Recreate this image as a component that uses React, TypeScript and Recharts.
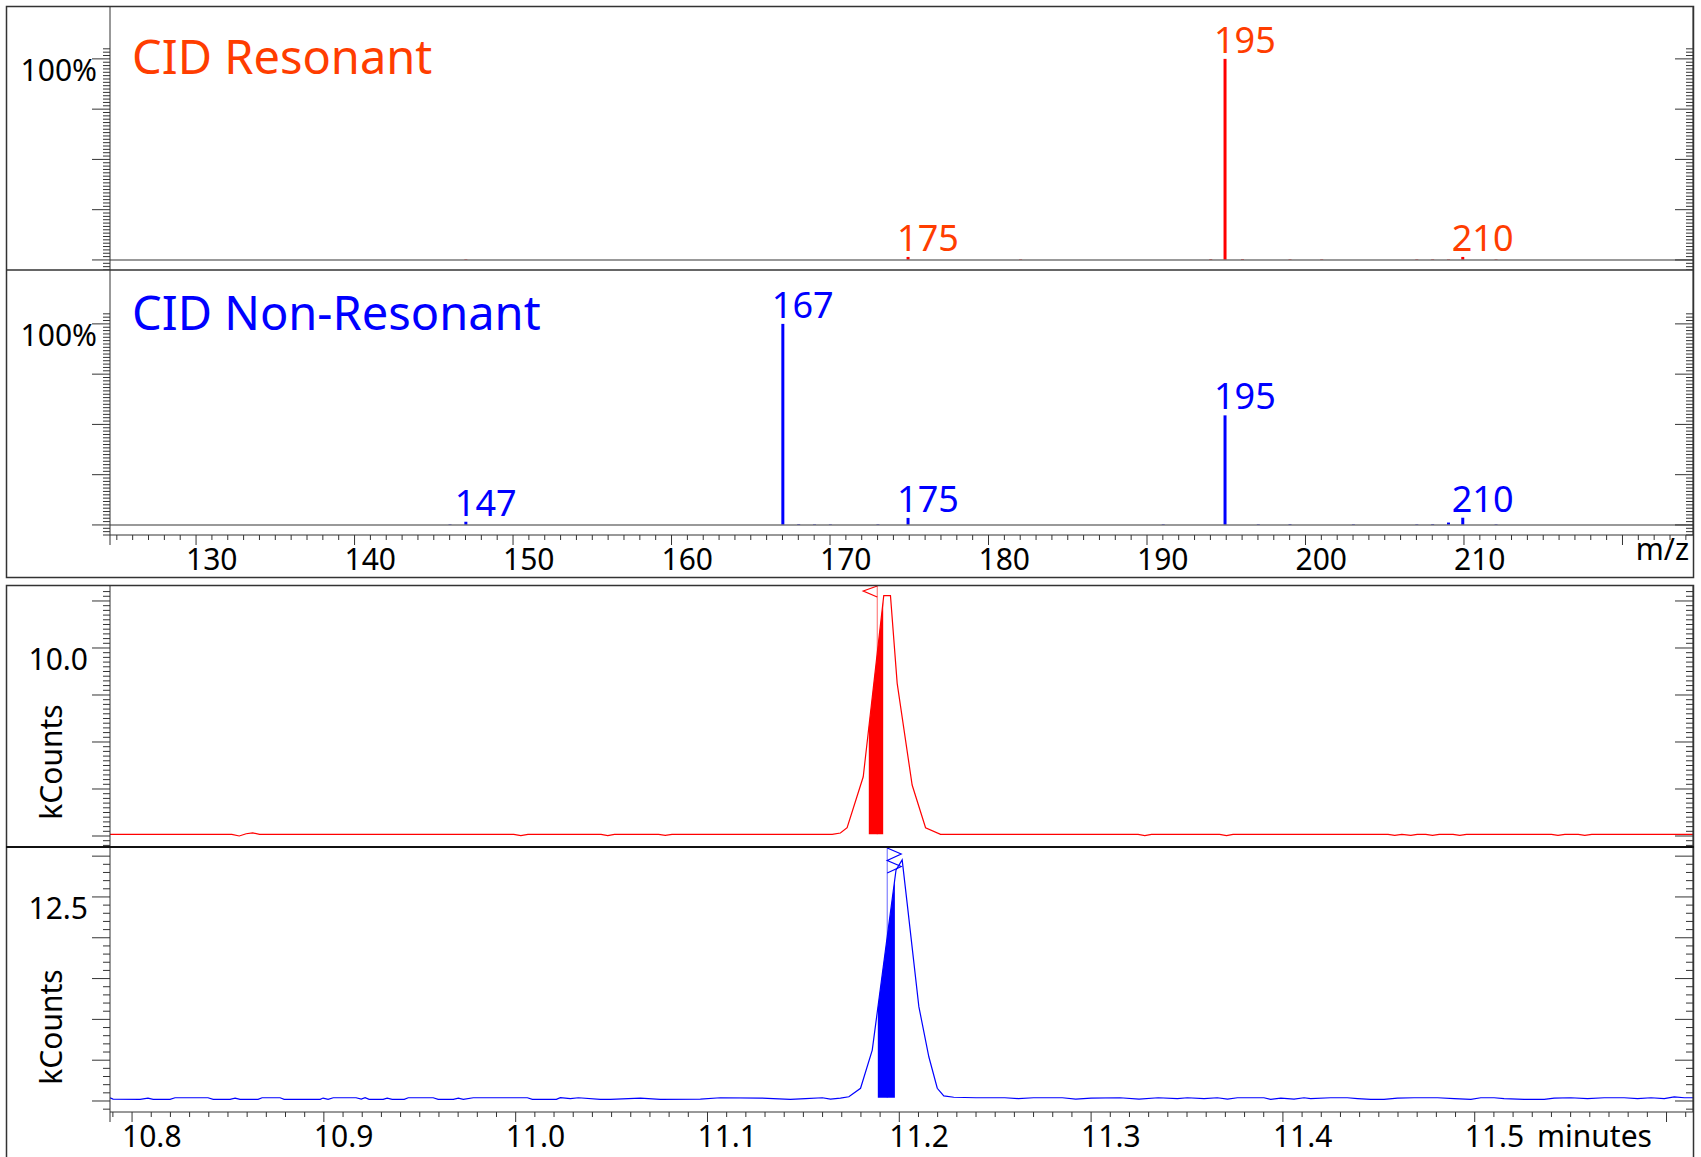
import React from 'react';
import {
  ComposedChart,
  Bar,
  Line,
  Area,
  XAxis,
  YAxis,
  ReferenceLine,
  ReferenceDot,
  LabelList,
} from 'recharts';

const FONT = '"Noto Sans", "DejaVu Sans", sans-serif';
const AXIS = '#333';
const RED = '#ff0000';
const RED_TEXT = '#ff3d00';
const BLUE = '#0000ff';

// --- mass spectra (relative intensity, %) ---
const resonantMz = [147, 174.9, 182, 194, 194.9, 196, 199, 201, 207, 208, 209, 209.9, 212];
const resonantIntensity = [0.3, 1.5, 0.3, 0.4, 100, 0.4, 0.3, 0.3, 0.3, 0.3, 0.3, 1.5, 0.3];
const resonantLabels = ['', '175', '', '', '195', '', '', '', '', '', '', '210', ''];

const nonResMz = [146, 147, 167, 168, 169, 170, 173, 174.9, 191, 194.9, 197, 199, 203, 207, 208, 209, 209.9, 212];
const nonResIntensity = [0.3, 1.6, 100, 0.4, 0.3, 0.3, 0.3, 3.5, 0.3, 54.5, 0.3, 0.4, 0.3, 0.3, 0.4, 1.2, 3.6, 0.3];
const nonResLabels = ['', '147', '167', '', '', '', '', '175', '', '195', '', '', '', '', '', '', '210', ''];

// --- chromatograms (kCounts vs minutes) ---
const redTimes = [
  10.7885, 10.852, 10.8559, 10.8595, 10.8629, 10.8665, 10.999, 11.0027, 11.0064, 11.0445, 11.048, 11.0515,
  11.0745, 11.078, 11.0815, 11.165, 11.1693, 11.1728, 11.1812, 11.1919, 11.1954, 11.1989, 11.2067, 11.2137,
  11.2215, 11.3245, 11.328, 11.3315, 11.367, 11.3706, 11.374, 11.4548, 11.4583, 11.462, 11.4667, 11.47,
  11.4745, 11.478, 11.4815, 11.4887, 11.4922, 11.4957, 11.54, 11.5434, 11.547, 11.554, 11.5574, 11.561, 11.6138,
];
const redCounts = [
  0.09, 0.09, 0.0, 0.12, 0.17, 0.09, 0.09, 0.02, 0.09, 0.09, 0.02, 0.09,
  0.09, 0.03, 0.09, 0.09, 0.16, 0.44, 3.15, 12.78, 12.78, 8.12, 2.71, 0.44,
  0.09, 0.09, 0.02, 0.09, 0.09, 0.02, 0.09, 0.09, 0.03, 0.09, 0.03, 0.09,
  0.09, 0.03, 0.09, 0.09, 0.03, 0.09, 0.09, 0.03, 0.09, 0.09, 0.03, 0.09, 0.09,
];
const redIntegTimes = [11.1841, 11.1916];
const redIntegCounts = [5.76, 12.5];
const redApexTime = 11.1885;

const blueTimes = [
  10.7885, 10.7901, 10.8042, 10.8083, 10.811, 10.8198, 10.8224, 10.8396, 10.8423, 10.8511, 10.8537, 10.8563,
  10.8657, 10.8678, 10.8772, 10.8793, 10.8981, 10.8996, 10.9022, 10.9049, 10.9168, 10.9195, 10.9215, 10.9236,
  10.9309, 10.933, 10.9356, 10.9419, 10.944, 10.957, 10.9596, 10.9675, 10.9701, 10.9727, 10.9779, 11.0061,
  11.0087, 11.0212, 11.0233, 11.0285, 11.0327, 11.0441, 11.0494, 11.065, 11.0754, 11.0963, 11.1067, 11.1276,
  11.1432, 11.1511, 11.1599, 11.1641, 11.1693, 11.1737, 11.1798, 11.1859, 11.1983, 11.2015, 11.2041, 11.2102,
  11.2154, 11.2198, 11.2232, 11.2284, 11.24, 11.255, 11.262, 11.27, 11.285, 11.292, 11.3, 11.315,
  11.325, 11.335, 11.345, 11.3502, 11.3589, 11.3658, 11.3711, 11.3763, 11.3832, 11.3901, 11.3936, 11.3989,
  11.4058, 11.411, 11.4145, 11.4249, 11.4336, 11.4389, 11.4458, 11.4527, 11.4597, 11.4684, 11.4806, 11.4893,
  11.498, 11.5032, 11.5101, 11.5153, 11.5258, 11.5362, 11.5414, 11.5501, 11.5588, 11.5675, 11.5779, 11.5849,
  11.5919, 11.5988, 11.604, 11.6093, 11.6138,
];
const blueCounts = [
  0.2, 0.12, 0.1, 0.18, 0.1, 0.1, 0.2, 0.2, 0.1, 0.1, 0.18, 0.1,
  0.1, 0.2, 0.2, 0.1, 0.1, 0.18, 0.1, 0.2, 0.2, 0.12, 0.2, 0.1,
  0.1, 0.18, 0.1, 0.1, 0.2, 0.2, 0.1, 0.1, 0.18, 0.1, 0.2, 0.2,
  0.1, 0.1, 0.2, 0.15, 0.2, 0.1, 0.1, 0.18, 0.1, 0.12, 0.2, 0.18,
  0.1, 0.14, 0.2, 0.12, 0.18, 0.26, 0.78, 3.12, 14.15, 14.77, 12.11, 5.78,
  2.71, 0.78, 0.31, 0.23, 0.2, 0.2, 0.15, 0.2, 0.2, 0.12, 0.18, 0.2,
  0.12, 0.2, 0.15, 0.2, 0.15, 0.2, 0.12, 0.2, 0.2, 0.2, 0.1, 0.18,
  0.12, 0.2, 0.15, 0.2, 0.2, 0.15, 0.1, 0.1, 0.18, 0.2, 0.2, 0.15,
  0.1, 0.2, 0.2, 0.15, 0.1, 0.1, 0.18, 0.2, 0.15, 0.2, 0.2, 0.15,
  0.2, 0.15, 0.25, 0.2, 0.2,
];
const blueIntegTimes = [11.1888, 11.1977];
const blueIntegCounts = [5.7, 13.6];
const blueApexTime = 11.1937;

// --- tick labels ---
const percentTickLabels = ['100%'];
const mzTickLabels = ['130', '140', '150', '160', '170', '180', '190', '200', '210'];
const timeTickLabels = ['10.8', '10.9', '11.0', '11.1', '11.2', '11.3', '11.4', '11.5'];
const redCountLabels = ['10.0'];
const blueCountLabels = ['12.5'];

const mzDomain: [number, number] = [124.57, 224.45];
const timeDomain: [number, number] = [10.7885, 11.6138];

const range = (a: number, b: number) => Array.from({ length: b - a + 1 }, (_, i) => a + i);
const pctTicks = range(-3, 63).map((k) => (k * 25) / 15);
const mzTicks = [mzDomain[0], ...range(125, 224)];
const timeTicks = [timeDomain[0], ...range(1079, 1161).map((i) => i / 100)];
const redYTicks = range(-2, 52).map((k) => k * 0.25);
const blueYTicks = range(-1, 30).map((k) => k * 0.5);

const isMultiple = (v: number, step: number) => Math.abs(v / step - Math.round(v / step)) < 1e-6;
const findLabel = (labels: string[], v: number) => labels.find((l) => Math.abs(parseFloat(l) - v) < 1e-6);

const leftTick = (major: number, labels: string[], labelDx: number) => (props: any) => {
  const { x, y, payload } = props;
  const v = payload.value;
  const len = isMultiple(v, major) ? 18 : 7;
  const label = findLabel(labels, v);
  return (
    <g>
      <line x1={x - len} x2={x} y1={y} y2={y} stroke={AXIS} strokeWidth={1} />
      {label && (
        <text x={x - labelDx} y={y + 22} textAnchor="end" fontFamily={FONT} fontSize={30} fill="#000">
          {label}
        </text>
      )}
    </g>
  );
};

const rightTick = (major: number) => (props: any) => {
  const { x, y, payload } = props;
  const len = isMultiple(payload.value, major) ? 18 : 7;
  return <line x1={x - len} x2={x} y1={y} y2={y} stroke={AXIS} strokeWidth={1} />;
};

const bottomTick = (major: number, domainMin: number, labels: string[]) => (props: any) => {
  const { x, y, payload } = props;
  const v = payload.value;
  const isMajor = isMultiple(v, major) || Math.abs(v - domainMin) < 1e-9;
  const label = findLabel(labels, v);
  return (
    <g>
      <line x1={x} x2={x} y1={y} y2={y + (isMajor ? 10 : 5)} stroke={AXIS} strokeWidth={1} />
      {label && (
        <text x={x - 10} y={y + 35} textAnchor="start" fontFamily={FONT} fontSize={30} fill="#000">
          {label}
        </text>
      )}
    </g>
  );
};

const peakLabel = (color: string) => (props: any) => {
  const { value } = props;
  if (!value) return null;
  const vb = props.viewBox ?? props;
  const cx = vb.x + (vb.width ?? 0) / 2;
  const top = Math.min(vb.y, vb.y + (vb.height ?? 0));
  return (
    <text x={cx - 11} y={top - 6} textAnchor="start" fontFamily={FONT} fontSize={36} fill={color}>
      {value}
    </text>
  );
};

function SpectrumPanel({ data, color, labelColor, height, axisHeight, showAxis, yDomain }: any) {
  return (
    <ComposedChart width={1701} height={height} data={data} margin={{ top: 0, right: 0, bottom: 0, left: 0 }}>
      <XAxis
        type="number"
        dataKey="mz"
        domain={mzDomain}
        ticks={mzTicks}
        interval={0}
        hide={!showAxis}
        height={axisHeight}
        tickSize={0}
        tickMargin={0}
        tickLine={false}
        tick={bottomTick(10, mzDomain[0], mzTickLabels)}
        axisLine={{ stroke: AXIS }}
        allowDataOverflow
      />
      <YAxis
        yAxisId="l"
        type="number"
        domain={yDomain}
        ticks={pctTicks}
        interval={0}
        width={110}
        tickSize={0}
        tickMargin={0}
        tickLine={false}
        tick={leftTick(25, percentTickLabels, 13)}
        axisLine={{ stroke: AXIS }}
        allowDataOverflow
      />
      <YAxis
        yAxisId="r"
        orientation="right"
        type="number"
        domain={yDomain}
        ticks={pctTicks}
        interval={0}
        width={8}
        tickSize={0}
        tickMargin={0}
        tickLine={false}
        tick={rightTick(25)}
        axisLine={{ stroke: AXIS }}
        allowDataOverflow
      />
      <ReferenceLine yAxisId="l" y={0} stroke="#777" strokeWidth={1.5} />
      <Bar yAxisId="l" dataKey="intensity" fill={color} barSize={3} isAnimationActive={false}>
        <LabelList dataKey="label" content={peakLabel(labelColor)} />
      </Bar>
    </ComposedChart>
  );
}

function ChromPanel({ data, fillData, color, height, showAxis, yDomain, yTicks, major, labels, base, apex, marker }: any) {
  return (
    <ComposedChart width={1701} height={height} data={data} margin={{ top: 0, right: 0, bottom: 0, left: 0 }}>
      <XAxis
        type="number"
        dataKey="t"
        domain={timeDomain}
        ticks={timeTicks}
        interval={0}
        hide={!showAxis}
        height={45}
        tickSize={0}
        tickMargin={0}
        tickLine={false}
        tick={bottomTick(0.1, timeDomain[0], timeTickLabels)}
        axisLine={{ stroke: AXIS }}
        allowDataOverflow
      />
      <YAxis
        yAxisId="l"
        type="number"
        domain={yDomain}
        ticks={yTicks}
        interval={0}
        width={110}
        tickSize={0}
        tickMargin={0}
        tickLine={false}
        tick={leftTick(major, labels, 22)}
        axisLine={{ stroke: AXIS }}
        allowDataOverflow
      />
      <YAxis
        yAxisId="r"
        orientation="right"
        type="number"
        domain={yDomain}
        ticks={yTicks}
        interval={0}
        width={8}
        tickSize={0}
        tickMargin={0}
        tickLine={false}
        tick={rightTick(major)}
        axisLine={{ stroke: AXIS }}
        allowDataOverflow
      />
      <ReferenceLine
        yAxisId="l"
        segment={[
          { x: apex, y: yDomain[1] },
          { x: apex, y: base },
        ]}
        stroke={color}
        strokeOpacity={0.6}
        strokeWidth={1}
      />
      <Area
        yAxisId="l"
        data={fillData}
        dataKey="v"
        type="linear"
        baseValue={base}
        fill={color}
        fillOpacity={1}
        stroke="none"
        isAnimationActive={false}
      />
      <Line yAxisId="l" dataKey="v" type="linear" stroke={color} strokeWidth={1.2} dot={false} isAnimationActive={false} />
      <ReferenceDot yAxisId="l" x={apex} y={yDomain[1]} r={0} shape={marker} />
    </ComposedChart>
  );
}

const redMarker = (p: any) => (
  <path d={`M${p.cx},${p.cy + 1} L${p.cx - 14},${p.cy + 6} L${p.cx},${p.cy + 12}`} stroke={RED} fill="none" strokeWidth={1.2} />
);
const blueMarker = (p: any) => (
  <path
    d={`M${p.cx},${p.cy + 1} L${p.cx + 14},${p.cy + 7} L${p.cx},${p.cy + 13.5} L${p.cx + 14},${p.cy + 19.5} L${p.cx},${p.cy + 26}`}
    stroke={BLUE}
    fill="none"
    strokeWidth={1.2}
  />
);

export default function App() {
  const resonantData = resonantMz.map((mz, i) => ({ mz, intensity: resonantIntensity[i], label: resonantLabels[i] }));
  const nonResData = nonResMz.map((mz, i) => ({ mz, intensity: nonResIntensity[i], label: nonResLabels[i] }));
  const redData = redTimes.map((t, i) => ({ t, v: redCounts[i] }));
  const blueData = blueTimes.map((t, i) => ({ t, v: blueCounts[i] }));
  const redFill = redIntegTimes.map((t, i) => ({ t, v: redIntegCounts[i] }));
  const blueFill = blueIntegTimes.map((t, i) => ({ t, v: blueIntegCounts[i] }));

  return (
    <div style={{ position: 'absolute', left: 0, top: 0, width: 1701, height: 1157, background: '#fff', overflow: 'hidden' }}>
      <div style={{ position: 'absolute', left: 0, top: 6 }}>
        <SpectrumPanel data={resonantData} color={RED} labelColor={RED_TEXT} height={264} axisHeight={43} showAxis={false} yDomain={[-5, 126.3]} />
      </div>
      <div style={{ position: 'absolute', left: 0, top: 270 }}>
        <SpectrumPanel data={nonResData} color={BLUE} labelColor={BLUE} height={315} axisHeight={50} showAxis yDomain={[-5, 126.8]} />
      </div>
      <div style={{ position: 'absolute', left: 0, top: 585 }}>
        <ChromPanel
          data={redData}
          fillData={redFill}
          color={RED}
          height={262}
          showAxis={false}
          yDomain={[-0.585, 13.35]}
          yTicks={redYTicks}
          major={2.5}
          labels={redCountLabels}
          base={0.09}
          apex={redApexTime}
          marker={redMarker}
        />
      </div>
      <div style={{ position: 'absolute', left: 0, top: 847 }}>
        <ChromPanel
          data={blueData}
          fillData={blueFill}
          color={BLUE}
          height={310}
          showAxis
          yDomain={[-0.674, 15.56]}
          yTicks={blueYTicks}
          major={2.5}
          labels={blueCountLabels}
          base={0.2}
          apex={blueApexTime}
          marker={blueMarker}
        />
      </div>
      <svg width={1701} height={1157} style={{ position: 'absolute', left: 0, top: 0, pointerEvents: 'none' }}>
        <rect x={6.5} y={6.5} width={1687} height={571} fill="none" stroke={AXIS} strokeWidth={1.5} />
        <line x1={6} x2={1694} y1={270} y2={270} stroke={AXIS} strokeWidth={1.5} />
        <path d="M6.5,1157 V585.5 H1693.5 V1157" fill="none" stroke={AXIS} strokeWidth={1.5} />
        <line x1={6} x2={1694} y1={847} y2={847} stroke="#111" strokeWidth={2} />
        <text x={132} y={74} fontFamily={FONT} fontSize={47} fill={RED_TEXT}>CID Resonant</text>
        <text x={132} y={330} fontFamily={FONT} fontSize={47} fill={BLUE}>CID Non-Resonant</text>
        <text x={1689} y={560} textAnchor="end" fontFamily={FONT} fontSize={30} fill="#000">m/z</text>
        <text x={1537} y={1147} fontFamily={FONT} fontSize={30} fill="#000">minutes</text>
        <text x={62} y={762} transform="rotate(-90 62 762)" textAnchor="middle" fontFamily={FONT} fontSize={30} fill="#000">kCounts</text>
        <text x={62} y={1027} transform="rotate(-90 62 1027)" textAnchor="middle" fontFamily={FONT} fontSize={30} fill="#000">kCounts</text>
      </svg>
    </div>
  );
}
